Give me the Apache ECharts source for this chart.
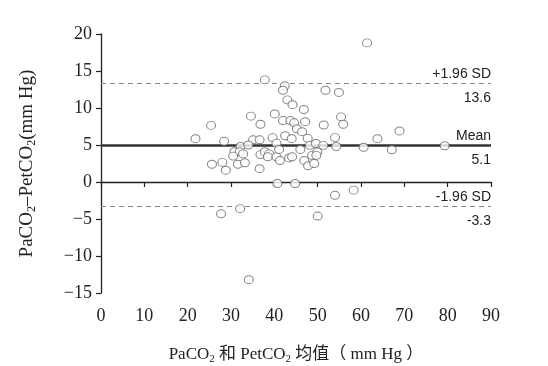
<!DOCTYPE html>
<html><head><meta charset="utf-8">
<script src="https://cdn.jsdelivr.net/npm/echarts@6/dist/echarts.min.js"></script>
<style>html,body{margin:0;padding:0;background:#fff}#c{width:548px;height:366px}</style>
</head><body><div id="c"></div>
<script>
// Mean of PaCO2 and PetCO2 (mm Hg)
const meanX = [61.4,37.8,42.4,42.0,51.8,54.9,43.0,44.2,46.8,34.6,40.1,55.4,42.0,43.7,44.6,47.1,25.4,36.8,51.4,55.9,45.2,46.4,68.9,21.8,28.4,35.1,36.6,39.6,42.5,44.0,47.7,54.0,63.8,32.2,34.0,40.5,48.2,49.6,51.3,54.3,60.6,79.3,30.8,32.0,32.8,30.5,36.8,37.8,38.8,38.5,40.5,41.1,41.3,43.4,44.1,46.0,48.7,49.9,49.7,67.1,25.6,28.0,31.6,33.2,28.8,36.6,46.9,47.8,49.2,40.7,44.8,58.3,54.0,27.7,32.1,50.0,34.1];
// Difference PaCO2 - PetCO2 (mm Hg)
const diffY = [18.8,13.8,13.0,12.4,12.4,12.1,11.1,10.45,9.8,8.9,9.2,8.8,8.3,8.3,8.0,8.15,7.65,7.8,7.7,7.8,7.2,6.8,6.9,5.85,5.5,5.7,5.7,6.0,6.25,5.85,5.9,6.0,5.85,4.8,5.0,5.25,4.95,5.2,4.95,4.8,4.7,4.9,4.1,4.1,3.8,3.5,3.7,4.1,3.8,3.4,3.4,4.4,2.9,3.25,3.4,4.4,3.6,4.05,3.6,4.35,2.4,2.65,2.4,2.6,1.6,1.8,2.9,2.2,2.5,-0.2,-0.2,-1.1,-1.8,-4.3,-3.6,-4.6,-13.2];
const meanLine = 5.0;
const upperLine = 13.4;
const lowerLine = -3.25;
const meanLabel = ['Mean', '5.1'];
const upperLabel = ['+1.96 SD', '13.6'];
const lowerLabel = ['-1.96 SD', '-3.3'];
const xTicks = {min: 0, max: 90, interval: 10};
const yTicks = {min: -15, max: 20, interval: 5};

const points = meanX.map((x, i) => [x, diffY[i]]);
const sans = '"Liberation Sans", Arial, sans-serif';
const serif = '"Liberation Serif", "Times New Roman", "Noto Sans CJK SC", serif';

function refLine(y, top, bottom, style) {
  return [
    {yAxis: y, lineStyle: style, label: {show: true, position: 'insideEndTop', formatter: top, distance: [0, 2]}},
    {yAxis: y, lineStyle: {type: 'solid', width: 1, color: 'rgba(0,0,0,0)'}, label: {show: true, position: 'insideEndBottom', formatter: bottom, distance: [0, 8]}}
  ];
}
const dashStyle = {type: [5, 4], color: '#888', width: 1};
const solidStyle = {type: 'solid', color: '#333', width: 2.5};

const chart = echarts.init(document.getElementById('c'), null, {renderer: 'canvas'});
chart.setOption({
  animation: false,
  backgroundColor: '#fff',
  grid: {left: 101, right: 57, top: 34, bottom: 73, containLabel: false, outerBoundsMode: 'none'},
  xAxis: {
    type: 'value', min: xTicks.min, max: xTicks.max, interval: xTicks.interval,
    name: 'PaCO{s|2} 和 PetCO{s|2} 均值（ mm Hg ）',
    nameLocation: 'middle', nameGap: 52,
    nameTextStyle: {fontFamily: serif, fontSize: 17, color: '#222',
      rich: {s: {fontFamily: serif, fontSize: 11, color: '#222', padding: [9, 0, 0, 0]}}},
    axisLine: {lineStyle: {color: '#222', width: 1.3}},
    axisTick: {show: true, length: 5, lineStyle: {color: '#222', width: 1.2}},
    axisLabel: {fontFamily: serif, fontSize: 18, color: '#222', margin: 14},
    splitLine: {show: false}
  },
  yAxis: {
    type: 'value', min: yTicks.min, max: yTicks.max, interval: yTicks.interval,
    name: 'PaCO{s|2}–PetCO{s|2}(mm Hg)',
    nameLocation: 'middle', nameGap: 63, nameRotate: 90,
    nameTextStyle: {fontFamily: serif, fontSize: 19, color: '#222',
      rich: {s: {fontFamily: serif, fontSize: 12, color: '#222', padding: [10, 0, 0, 0]}}},
    axisLine: {show: true, lineStyle: {color: '#222', width: 1.3}},
    axisTick: {show: true, length: 5, lineStyle: {color: '#222', width: 1.2}},
    axisLabel: {fontFamily: serif, fontSize: 18, color: '#222', margin: 9,
      formatter: v => String(v).replace('-', '−')},
    splitLine: {show: false}
  },
  series: [{
    type: 'scatter',
    data: points,
    symbol: 'circle',
    symbolSize: [9, 8],
    itemStyle: {color: '#fff', borderColor: '#666', borderWidth: 1},
    z: 3,
    markLine: {
      silent: true, symbol: 'none', z: 2,
      label: {fontFamily: sans, fontSize: 14, color: '#222'},
      data: [].concat(
        refLine(meanLine, meanLabel[0], meanLabel[1], solidStyle),
        refLine(upperLine, upperLabel[0], upperLabel[1], dashStyle),
        refLine(lowerLine, lowerLabel[0], lowerLabel[1], dashStyle)
      )
    }
  }]
});
</script></body></html>
